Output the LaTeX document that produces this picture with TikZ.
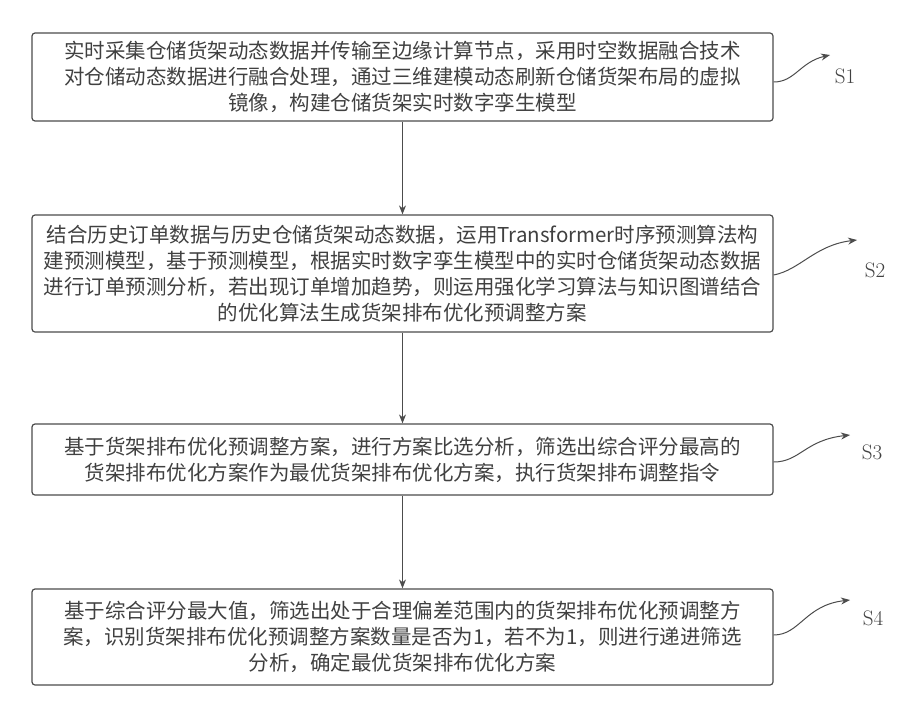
\documentclass[tikz,border=0pt]{standalone}
\usepackage{fontspec}
\newfontfamily\cjk{Noto Sans CJK SC}
\usetikzlibrary{arrows.meta}
\begin{document}
\begin{tikzpicture}[x=1pt,y=1pt,
  box/.style={draw=black!70,line width=1.2pt,rounded corners=3pt,minimum width=741pt,align=center,inner sep=0pt,
    font=\cjk\fontsize{20.5}{26}\selectfont,text=black!75},
  arr/.style={-{Stealth[length=9pt,width=7pt]},line width=1pt,black!70},
  lab/.style={font=\fontsize{21}{23}\selectfont,text=black!75},
  cur/.style={-{Stealth[length=9pt,width=7pt]},line width=1pt,black!70}]
\useasboundingbox (0,0) rectangle (916,-704);
\node[box,minimum height=88pt] (b1) at (402.5,-77) {实时采集仓储货架动态数据并传输至边缘计算节点，采用时空数据融合技术\\对仓储动态数据进行融合处理，通过三维建模动态刷新仓储货架布局的虚拟\\镜像，构建仓储货架实时数字孪生模型};
\node[box,minimum height=117pt] (b2) at (402.5,-273.5) {结合历史订单数据与历史仓储货架动态数据，运用Transformer时序预测算法构\\建预测模型，基于预测模型，根据实时数字孪生模型中的实时仓储货架动态数据\\进行订单预测分析，若出现订单增加趋势，则运用强化学习算法与知识图谱结合\\的优化算法生成货架排布优化预调整方案};
\node[box,minimum height=71pt] (b3) at (402.5,-459.5) {基于货架排布优化预调整方案，进行方案比选分析，筛选出综合评分最高的\\货架排布优化方案作为最优货架排布优化方案，执行货架排布调整指令};
\node[box,minimum height=96pt] (b4) at (402.5,-637) {基于综合评分最大值，筛选出处于合理偏差范围内的货架排布优化预调整方\\案，识别货架排布优化预调整方案数量是否为1，若不为1，则进行递进筛选\\分析，确定最优货架排布优化方案};
\draw[arr] (b1) -- (b2);
\draw[arr] (b2) -- (b3);
\draw[arr] (b3) -- (b4);
\coordinate (e1) at (830,-55); \node[lab] (s1) at (845,-76) {S1};
\coordinate (e2) at (857,-240); \node[lab] (s2) at (875,-270) {S2};
\coordinate (e3) at (850,-435); \node[lab] (s3) at (872,-452) {S3};
\coordinate (e4) at (850,-600); \node[lab] (s4) at (873,-618) {S4};
\draw[cur] (b1.east|-0,-82) .. controls (795,-82) and (800,-62) .. (e1);
\draw[cur] (b2.east|-0,-275) .. controls (800,-270) and (815,-245) .. (e2);
\draw[cur] (b3.east|-0,-462) .. controls (800,-462) and (805,-440) .. (e3);
\draw[cur] (b4.east|-0,-635) .. controls (800,-635) and (805,-605) .. (e4);
\end{tikzpicture}
\end{document}
